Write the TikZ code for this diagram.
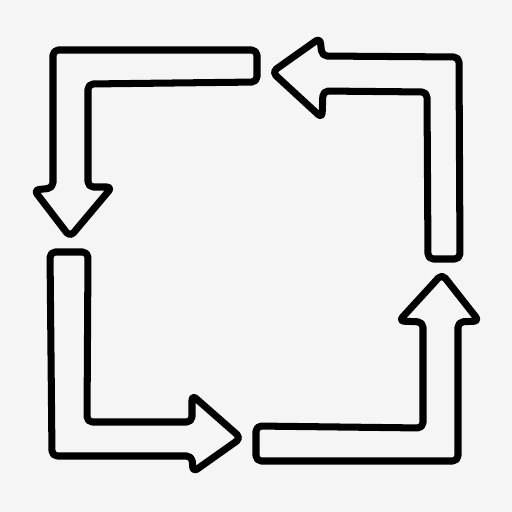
\documentclass[tikz,border=0pt]{standalone}
\definecolor{paper}{RGB}{245,245,245}
\tikzset{
  sketch/.style={draw=black, line width=4pt, line join=round, rounded corners=3pt},
}
\begin{document}
\begin{tikzpicture}[x=0.02cm,y=-0.02cm]
\fill[paper] (0,0) rectangle (512,512);

% top left, pointing down
\draw[sketch] (257,50) -- (53,50) -- (53,188) -- (34,190) -- (70,237)
  -- (112,187) -- (88,187) -- (88,84) -- (257,82) -- cycle;

% top right, pointing left
\draw[sketch] (272,72) -- (320,38) -- (322,56) -- (459,57) -- (460,259)
  -- (428,259) -- (427,92) -- (323,91) -- (322,118) -- cycle;

% bottom left, pointing right
\draw[sketch] (50,252) -- (88,252) -- (87,422) -- (192,422) -- (192,395)
  -- (241,438) -- (193,472) -- (192,456) -- (52,456) -- cycle;

% bottom right, pointing up
\draw[sketch] (256,426) -- (423,428) -- (423,322) -- (399,321) -- (442,274)
  -- (479,321) -- (458,322) -- (458,461) -- (256,461) -- cycle;
\end{tikzpicture}
\end{document}
